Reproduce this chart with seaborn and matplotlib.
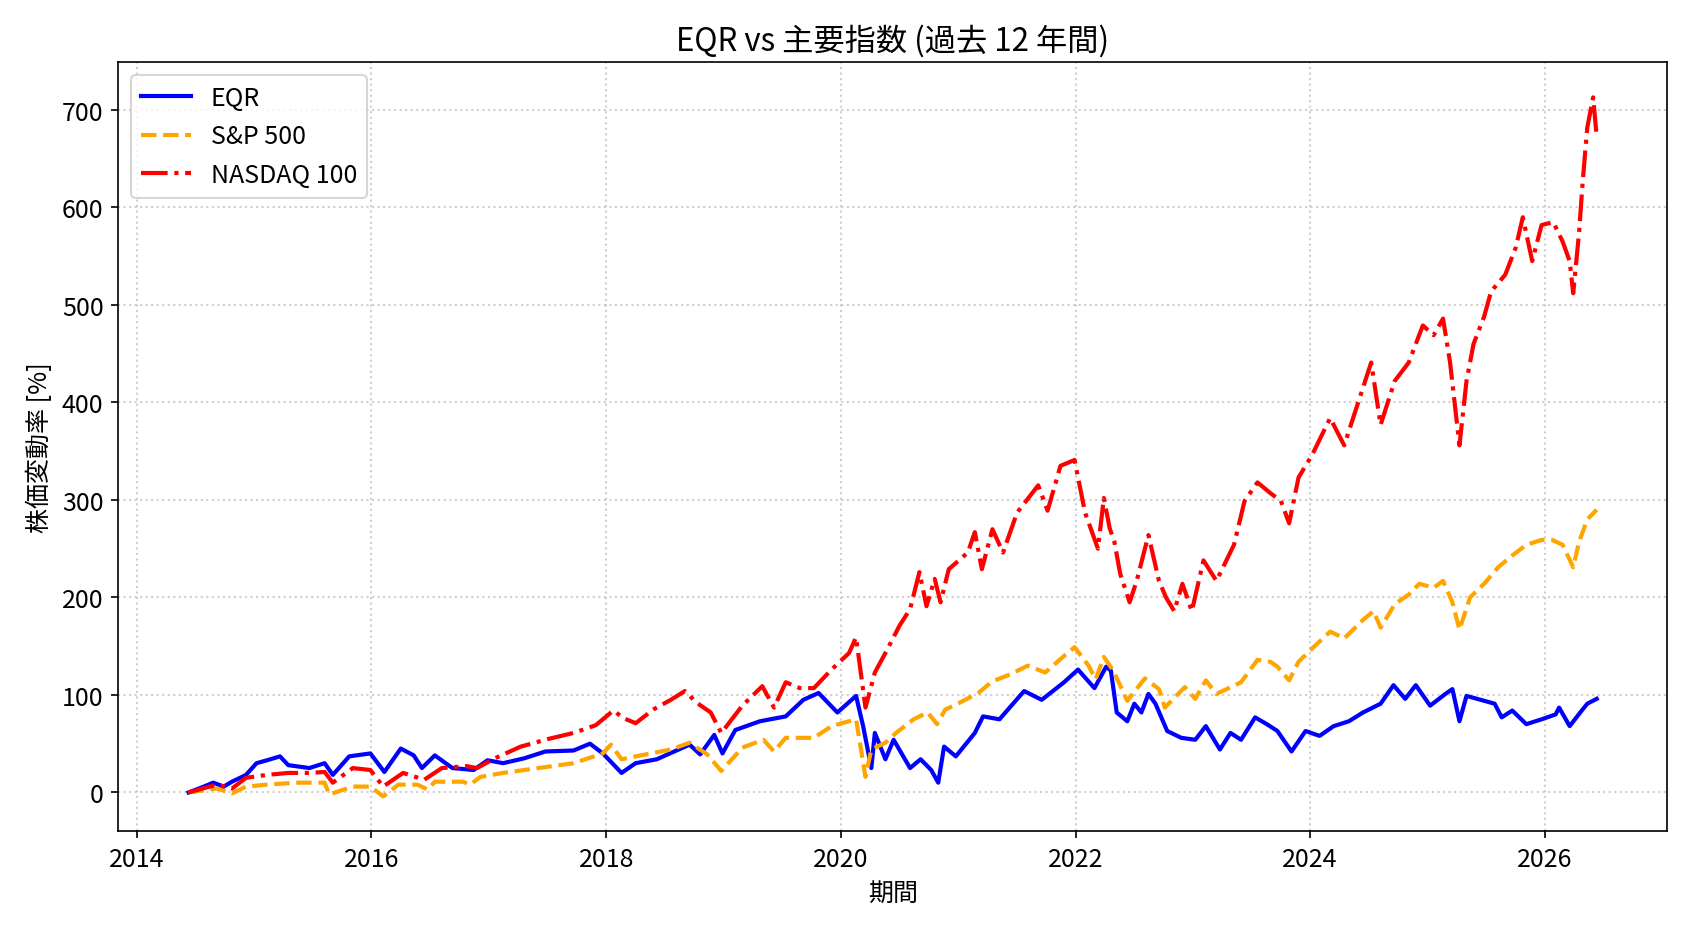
import numpy as np
import pandas as pd
import seaborn as sns
import matplotlib.pyplot as plt
import matplotlib.dates as mdates

plt.rcParams['font.family'] = ['Noto Sans CJK JP', 'DejaVu Sans']

# Data (fractional year, % change from start) ---------------------------------
eqr_t = [2014.44, 2014.55, 2014.65, 2014.74, 2014.81, 2014.93, 2015.02, 2015.11,
         2015.22, 2015.29, 2015.47, 2015.60, 2015.67, 2015.81, 2015.99, 2016.11,
         2016.25, 2016.36, 2016.43, 2016.54, 2016.69, 2016.87, 2016.99, 2017.12,
         2017.30, 2017.48, 2017.72, 2017.86, 2017.97, 2018.13, 2018.25, 2018.43,
         2018.71, 2018.80, 2018.92, 2018.99, 2019.10, 2019.31, 2019.53, 2019.68,
         2019.81, 2019.97, 2020.13, 2020.19, 2020.26, 2020.29, 2020.38, 2020.45,
         2020.59, 2020.68, 2020.77, 2020.83, 2020.88, 2020.98, 2021.14, 2021.21,
         2021.35, 2021.56, 2021.71, 2021.90, 2022.02, 2022.16, 2022.26, 2022.30,
         2022.35, 2022.44, 2022.50, 2022.56, 2022.62, 2022.68, 2022.78, 2022.90,
         2023.02, 2023.11, 2023.23, 2023.32, 2023.41, 2023.53, 2023.63, 2023.72,
         2023.84, 2023.96, 2024.08, 2024.20, 2024.33, 2024.45, 2024.60, 2024.71,
         2024.81, 2024.90, 2025.02, 2025.15, 2025.21, 2025.27, 2025.33, 2025.48,
         2025.57, 2025.63, 2025.72, 2025.84, 2025.97, 2026.09, 2026.12, 2026.21,
         2026.30, 2026.36, 2026.44]
eqr_v = [0, 5, 10, 6, 11, 18, 30, 33,
         37, 28, 25, 30, 18, 37, 40, 21,
         45, 38, 25, 38, 25, 23, 33, 30,
         35, 42, 43, 50, 40, 20, 30, 34,
         49, 39, 59, 40, 64, 73, 78, 95,
         102, 82, 99, 68, 25, 61, 34, 54,
         25, 34, 23, 10, 47, 37, 61, 78,
         75, 104, 95, 113, 126, 107, 129, 125,
         82, 73, 91, 82, 101, 91, 63, 56,
         54, 68, 44, 61, 54, 77, 70, 63,
         42, 63, 58, 68, 73, 82, 91, 110,
         96, 110, 89, 101, 106, 73, 99, 94,
         91, 77, 84, 70, 75, 80, 87, 68,
         82, 91, 96]

sp_t = [2014.44, 2014.68, 2014.81, 2014.93, 2015.11, 2015.35, 2015.60, 2015.64,
        2015.84, 2015.99, 2016.10, 2016.23, 2016.39, 2016.48, 2016.54, 2016.78,
        2016.84, 2016.93, 2017.12, 2017.42, 2017.72, 2017.97, 2018.04, 2018.13,
        2018.25, 2018.55, 2018.71, 2018.86, 2018.98, 2019.16, 2019.34, 2019.43,
        2019.53, 2019.77, 2019.92, 2020.13, 2020.21, 2020.26, 2020.38, 2020.47,
        2020.62, 2020.74, 2020.82, 2020.89, 2020.98, 2021.17, 2021.29, 2021.44,
        2021.59, 2021.74, 2021.90, 2021.99, 2022.11, 2022.17, 2022.24, 2022.32,
        2022.44, 2022.59, 2022.71, 2022.76, 2022.93, 2023.02, 2023.11, 2023.20,
        2023.41, 2023.55, 2023.66, 2023.72, 2023.82, 2023.90, 2024.02, 2024.17,
        2024.29, 2024.45, 2024.54, 2024.60, 2024.72, 2024.84, 2024.93, 2025.05,
        2025.13, 2025.21, 2025.27, 2025.36, 2025.48, 2025.60, 2025.72, 2025.84,
        2025.97, 2026.06, 2026.15, 2026.24, 2026.29, 2026.36, 2026.44]
sp_v = [0, 4, -1, 6, 8, 10, 10, -2,
        6, 6, -4, 8, 8, 3, 11, 11,
        8, 16, 20, 25, 30, 40, 49, 34,
        37, 44, 51, 39, 22, 46, 54, 42,
        56, 56, 68, 75, 16, 44, 51, 61,
        75, 82, 70, 85, 90, 102, 114, 121,
        130, 123, 140, 149, 130, 116, 139, 125,
        94, 117, 106, 87, 108, 96, 115, 101,
        113, 136, 134, 129, 115, 134, 148, 165,
        158, 177, 186, 169, 193, 203, 214, 210,
        217, 195, 167, 200, 214, 231, 243, 254,
        259, 259, 254, 231, 257, 280, 290]

ndx_t = [2014.44, 2014.68, 2014.81, 2014.93, 2015.11, 2015.29, 2015.47, 2015.60,
         2015.67, 2015.84, 2015.99, 2016.10, 2016.27, 2016.45, 2016.60, 2016.81,
         2016.90, 2017.05, 2017.27, 2017.51, 2017.72, 2017.91, 2018.06, 2018.15,
         2018.25, 2018.40, 2018.55, 2018.67, 2018.77, 2018.89, 2018.98, 2019.16,
         2019.33, 2019.43, 2019.53, 2019.65, 2019.77, 2019.92, 2020.07, 2020.13,
         2020.21, 2020.29, 2020.38, 2020.50, 2020.59, 2020.67, 2020.73, 2020.80,
         2020.85, 2020.92, 2021.08, 2021.14, 2021.20, 2021.29, 2021.38, 2021.50,
         2021.68, 2021.76, 2021.87, 2021.99, 2022.08, 2022.19, 2022.24, 2022.29,
         2022.33, 2022.38, 2022.46, 2022.52, 2022.62, 2022.71, 2022.77, 2022.84,
         2022.91, 2022.99, 2023.09, 2023.20, 2023.35, 2023.44, 2023.55, 2023.66,
         2023.75, 2023.82, 2023.90, 2024.02, 2024.17, 2024.29, 2024.39, 2024.52,
         2024.60, 2024.72, 2024.84, 2024.96, 2025.05, 2025.13, 2025.19, 2025.27,
         2025.33, 2025.39, 2025.48, 2025.54, 2025.66, 2025.75, 2025.81, 2025.89,
         2025.97, 2026.07, 2026.15, 2026.21, 2026.24, 2026.29, 2026.32, 2026.36,
         2026.41, 2026.44]
ndx_v = [0, 8, 4, 15, 18, 20, 20, 21,
         10, 25, 23, 6, 20, 13, 25, 27,
         25, 35, 47, 55, 61, 69, 84, 76,
         71, 85, 95, 104, 92, 82, 61, 89,
         109, 87, 113, 107, 107, 126, 143, 159,
         87, 123, 143, 171, 188, 226, 191, 219,
         195, 229, 246, 267, 229, 270, 246, 287,
         315, 289, 335, 341, 287, 250, 302, 271,
         257, 224, 195, 217, 264, 217, 200, 186,
         214, 186, 238, 217, 254, 299, 318, 307,
         299, 276, 323, 347, 384, 356, 393, 441,
         377, 422, 441, 479, 469, 486, 441, 356,
         422, 460, 488, 514, 531, 559, 590, 545,
         582, 585, 565, 545, 512, 574, 625, 682,
         713, 673]


def to_dates(years):
    years = np.asarray(years, dtype=float)
    base = pd.to_datetime(np.floor(years).astype(int).astype(str), format='%Y')
    return base + pd.to_timedelta((years % 1) * 365.25, unit='D')


# Plot ------------------------------------------------------------------------
fig, ax = plt.subplots(figsize=(1688 / 150, 932 / 150), dpi=150)
fig.subplots_adjust(left=0.070, right=0.9876, bottom=0.107, top=0.932)

sns.lineplot(x=to_dates(eqr_t), y=eqr_v, color='blue', linestyle='-',
             lw=2.0, label='EQR', ax=ax)
sns.lineplot(x=to_dates(sp_t), y=sp_v, color='orange', linestyle='--',
             lw=2.0, label='S&P 500', ax=ax)
sns.lineplot(x=to_dates(ndx_t), y=ndx_v, color='red', linestyle='-.',
             lw=2.0, label='NASDAQ 100', ax=ax)

# Post plot -------------------------------------------------------------------
ax.xaxis.set_major_locator(mdates.YearLocator(2))
ax.xaxis.set_major_formatter(mdates.DateFormatter('%Y'))
ax.tick_params(labelsize=12)
ax.grid(True, linestyle=':', linewidth=1, alpha=0.6)
ax.set_title('EQR vs 主要指数 (過去 12 年間)', fontsize=15)
ax.set_xlabel('期間', fontsize=12)
ax.set_ylabel('株価変動率 [%]', fontsize=12)
ax.legend(loc='upper left', fontsize=12)

fig.savefig('out.png', dpi=150)
